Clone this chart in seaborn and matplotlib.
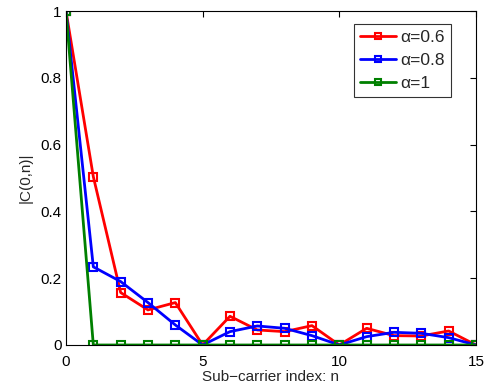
import numpy as np
import pandas as pd
import seaborn as sns
import matplotlib
matplotlib.use('Agg')
import matplotlib.pyplot as plt

# sub-carrier index
n = list(range(16))

# |C(0,n)| for each alpha
c_06 = [1.0, 0.504, 0.157, 0.105, 0.127, 0.0, 0.086, 0.045, 0.040, 0.058,
        0.0, 0.050, 0.028, 0.027, 0.042, 0.0]
c_08 = [1.0, 0.234, 0.190, 0.127, 0.060, 0.0, 0.040, 0.057, 0.050, 0.028,
        0.0, 0.025, 0.038, 0.035, 0.022, 0.0]
c_10 = [1.0, 0.0, 0.0, 0.0, 0.0, 0.0, 0.0, 0.0, 0.0, 0.0,
        0.0, 0.0, 0.0, 0.0, 0.0, 0.0]

labels = [u'\u03b1=0.6', u'\u03b1=0.8', u'\u03b1=1']
colors = ['red', 'blue', 'green']

df = pd.concat([pd.DataFrame({'n': n, 'C': v, 'alpha': lab})
                for v, lab in zip([c_06, c_08, c_10], labels)])

sns.set_style('white')
plt.rcParams['font.family'] = ['Liberation Sans', 'DejaVu Sans']

fig = plt.figure(figsize=(4.91, 3.85), dpi=100)
ax = fig.add_axes([0.1344, 0.1039, 0.835, 0.8675])

sns.lineplot(data=df, x='n', y='C', hue='alpha', palette=colors,
             hue_order=labels, marker='s', markersize=5.5,
             markerfacecolor='none', markeredgewidth=1.5,
             linewidth=2.0, ax=ax)
for line, col in zip(ax.lines, colors):
  line.set_markeredgecolor(col)

ax.set_xlim(0, 15)
ax.set_ylim(0, 1)
ax.set_xticks([0, 5, 10, 15])
ax.set_yticks([0, 0.2, 0.4, 0.6, 0.8, 1])
ax.set_yticklabels(['0', '0.2', '0.4', '0.6', '0.8', '1'])
ax.tick_params(direction='in', length=4, labelsize=11, top=True, right=True,
               colors='black', pad=3)
ax.tick_params(axis='x', pad=7)
for sp in ax.spines.values():
  sp.set_color('black')
  sp.set_linewidth(0.8)

ax.set_xlabel('Sub\u2212carrier index: n', fontsize=11, labelpad=1)
ax.set_ylabel('|C(0,n)|', fontsize=11, labelpad=6)

leg = ax.legend(loc='upper right', bbox_to_anchor=(0.939, 0.961), fontsize=12.5,
                frameon=True, fancybox=False, edgecolor='black',
                handlelength=2.1, borderpad=0.35, labelspacing=0.45,
                handletextpad=0.25, borderaxespad=0.0)
leg.get_frame().set_linewidth(0.8)
for h, col in zip(leg.legend_handles, colors):
  h.set_markeredgecolor(col)
  h.set_markerfacecolor('none')
  h.set_markersize(5)

fig.savefig('out.png', dpi=100)
